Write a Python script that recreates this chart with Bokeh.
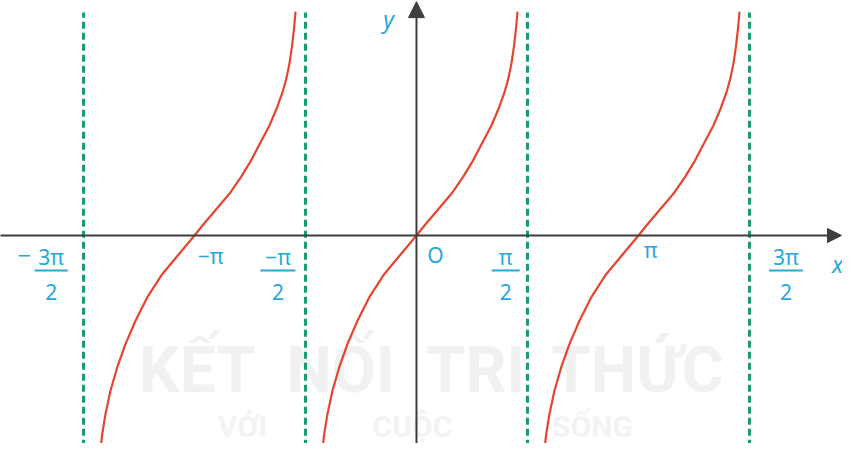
import numpy as np
from bokeh.plotting import figure
from bokeh.models import Arrow, NormalHead, Range1d
from bokeh.embed import file_html
from bokeh.resources import INLINE
from bokeh.core.properties import value

PI = np.pi

# ---- data -----------------------------------------------------------------
# one branch of the curve (x in radians, y in plot units); the other two
# branches are the same branch repeated one period (pi) to the left / right
branch_x = [-1.330, -1.306, -1.260, -1.189, -1.094, -0.977, -0.835, -0.669,
            -0.457, -0.222, 0.000, 0.113, 0.269, 0.509, 0.660, 0.800, 0.930,
            1.061, 1.160, 1.245, 1.300, 1.345, 1.380, 1.408, 1.429]
branch_y = [-3.029, -2.812, -2.529, -2.198, -1.868, -1.538, -1.207, -0.877,
            -0.548, -0.265, 0.000, 0.142, 0.325, 0.609, 0.830, 1.060, 1.310,
            1.557, 1.790, 2.024, 2.220, 2.440, 2.680, 2.920, 3.156]
branch_centres = [-PI, 0.0, PI]

asymptotes = [-3 * PI / 2, -PI / 2, PI / 2, 3 * PI / 2]
asymptote_top = 3.156

# tick labels
single_labels = ["\u2212\u03c0", "O", "\u03c0"]
single_x = [-2.915, 0.269, 3.312]
single_y = [-0.297, -0.269, -0.212]

frac_num = ["3\u03c0", "\u2212\u03c0", "\u03c0", "3\u03c0"]
frac_den = ["2", "2", "2", "2"]
frac_x = [-5.170, -1.960, 1.262, 5.229]
frac_half_width = [0.235, 0.248, 0.198, 0.240]
lead_minus_x = -5.55

# watermark (publisher's mark)
wm1 = ["KẾT", "NỐI", "TRI", "THỨC"]
wm1_x = [205, 348, 483, 645]
wm2 = ["VỚI", "CUỘC", "SỐNG"]
wm2_x = [250, 420, 600]

# ---- figure ------------------------------------------------------------------
W, H = 842, 443
p = figure(width=W, height=H, output_backend="svg", toolbar_location=None,
           x_range=Range1d(-5.887, 6.029), y_range=Range1d(-2.944, 3.326),
           min_border=0)
p.axis.visible = False
p.grid.visible = False
p.outline_line_color = None
p.background_fill_color = "white"
p.border_fill_color = "white"

PX = 70.66  # pixels per unit (same on both axes)


def dx(px):
    return (px - 424) / PX


wm_font = value("Roboto")
p.text(x=[dx(v) for v in wm1_x], y=[-1.91] * len(wm1), text=wm1,
       text_font=wm_font, text_font_size="64px", text_font_style="bold",
       text_color="#f1f1f1", text_align="center", text_baseline="middle")
p.text(x=[dx(v) for v in wm2_x], y=[-2.70] * len(wm2), text=wm2,
       text_font=wm_font, text_font_size="30px", text_font_style="bold",
       text_color="#f3f3f3", text_align="center", text_baseline="middle")

# asymptotes
green = "#1a9c72"
for a in asymptotes:
    p.line([a, a], [-3.3, asymptote_top], line_color=green, line_width=3,
           line_dash="7 4")

# axes
axis_col = "#3d3d3d"
p.add_layout(Arrow(end=NormalHead(size=14, fill_color=axis_col, line_color=axis_col, line_width=1),
                   x_start=-5.95, y_start=0, x_end=dx(849), y_end=0,
                   line_color=axis_col, line_width=2))
p.add_layout(Arrow(end=NormalHead(size=16, fill_color=axis_col, line_color=axis_col, line_width=1),
                   x_start=0, y_start=-3.1, x_end=0, y_end=3.31,
                   line_color=axis_col, line_width=2))

# curve branches
red = "#e4452f"
for c in branch_centres:
    p.line([c + v for v in branch_x], branch_y, line_color=red, line_width=2.2,
           line_join="round", line_cap="round")

# labels
cyan = "#27a8d8"
lab_font = value("Noto Sans")
FS = "21px"
p.text(x=single_x, y=single_y, text=single_labels, text_font=lab_font,
       text_font_size=FS, text_color=cyan, text_align="center",
       text_baseline="middle")
p.text(x=frac_x, y=[-0.300] * 4, text=frac_num, text_font=lab_font,
       text_font_size=FS, text_color=cyan, text_align="center",
       text_baseline="middle")
p.text(x=frac_x, y=[-0.805] * 4, text=frac_den, text_font=lab_font,
       text_font_size=FS, text_color=cyan, text_align="center",
       text_baseline="middle")
p.segment(x0=[x - w for x, w in zip(frac_x, frac_half_width)],
          x1=[x + w for x, w in zip(frac_x, frac_half_width)],
          y0=[-0.495] * 4, y1=[-0.495] * 4, line_color=cyan, line_width=2)
p.text(x=[lead_minus_x], y=[-0.28], text=["\u2212"], text_font=lab_font,
       text_font_size="24px", text_color=cyan, text_align="center",
       text_baseline="middle")

# axis names
p.text(x=[5.958], y=[-0.41], text=["x"], text_font=lab_font,
       text_font_size="23px", text_font_style="italic", text_color=cyan,
       text_align="center", text_baseline="middle")
p.text(x=[-0.396], y=[3.06], text=["y"], text_font=lab_font,
       text_font_size="23px", text_font_style="italic", text_color=cyan,
       text_align="center", text_baseline="middle")

open("out.html", "w").write(file_html(p, INLINE))
